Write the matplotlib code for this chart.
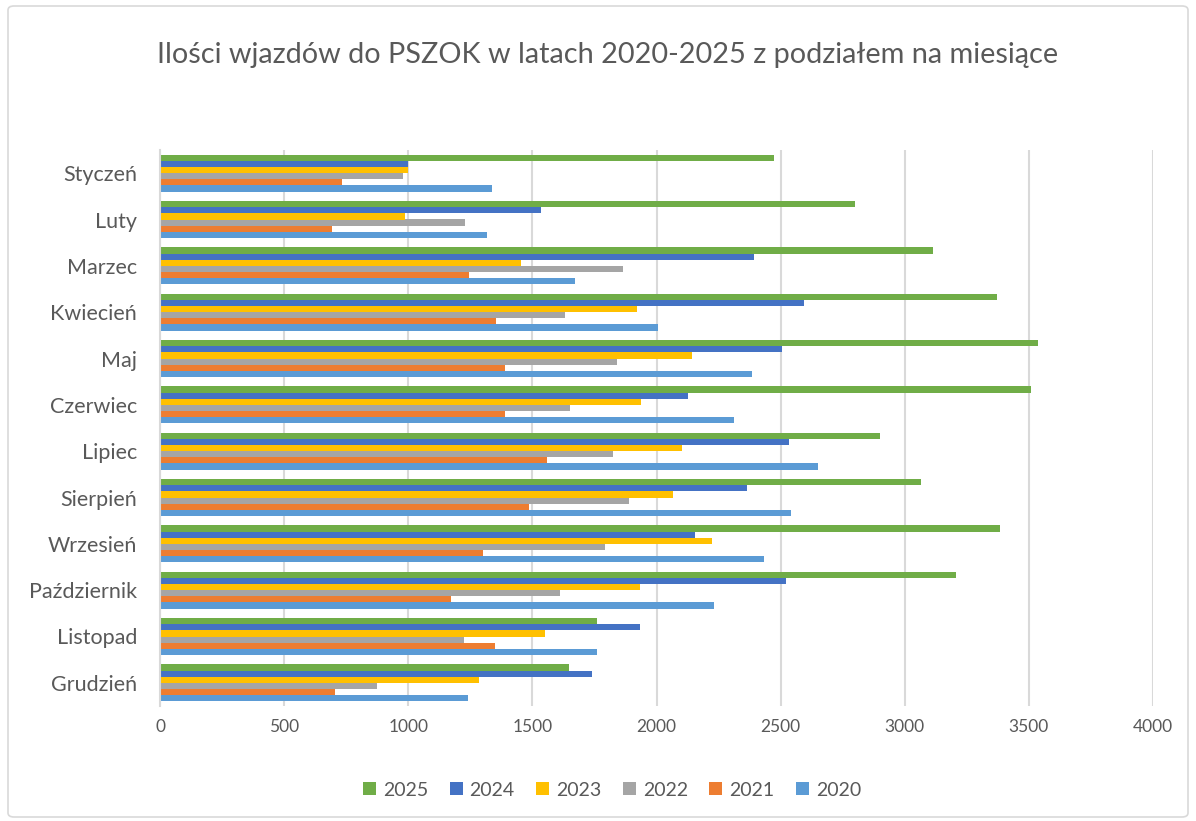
import matplotlib
matplotlib.use("Agg")
import matplotlib.pyplot as plt
from matplotlib.patches import FancyBboxPatch
import numpy as np

months = ["Styczeń", "Luty", "Marzec", "Kwiecień", "Maj", "Czerwiec", "Lipiec",
          "Sierpień", "Wrzesień", "Październik", "Listopad", "Grudzień"]

v2020 = [1336, 1317, 1670, 2008, 2383, 2314, 2651, 2542, 2433, 2232, 1760, 1241]
v2021 = [733, 692, 1243, 1353, 1388, 1391, 1560, 1485, 1300, 1174, 1350, 705]
v2022 = [980, 1227, 1866, 1632, 1841, 1650, 1825, 1890, 1794, 1612, 1225, 876]
v2023 = [998, 985, 1453, 1923, 2143, 1936, 2103, 2065, 2222, 1933, 1549, 1285]
v2024 = [1000, 1535, 2393, 2594, 2504, 2127, 2534, 2363, 2156, 2521, 1935, 1740]
v2025 = [2475, 2798, 3114, 3372, 3535, 3507, 2899, 3066, 3385, 3206, 1760, 1647]

years = ["2020", "2021", "2022", "2023", "2024", "2025"]
series = [v2020, v2021, v2022, v2023, v2024, v2025]
colors = ["#5B9BD5", "#ED7D31", "#A5A5A5", "#FFC000", "#4472C4", "#70AD47"]

plt.rcParams['font.family'] = ['Lato', 'DejaVu Sans']
txt = "#595959"

fig = plt.figure(figsize=(11.96, 8.21), dpi=100)
ax = fig.add_axes([160 / 1196, 1 - 706 / 821, (1153 - 160) / 1196, (706 - 150) / 821])

n = len(months)
ypos = np.arange(n)[::-1]  # Styczeń on top
h = 0.133
handles = []
for k, (yr, vals, c) in enumerate(zip(years, series, colors)):
    off = (k - 2.5) * h
    b = ax.barh(ypos + off, vals, height=h, color=c, label=yr, zorder=3)
    handles.append(b)

ax.set_xlim(0, 4000)
ax.set_ylim(-0.5, n - 0.5)
ax.set_xticks(np.arange(0, 4001, 500))
ax.set_yticks(ypos)
ax.set_yticklabels(months)
ax.tick_params(axis='y', length=0, pad=16.5, labelsize=15.5, labelcolor=txt)
ax.tick_params(axis='x', length=0, pad=9, labelsize=12.5, labelcolor=txt)
ax.grid(axis='x', color="#D9D9D9", linewidth=1.5, zorder=0)
for s in ["top", "right", "bottom"]:
    ax.spines[s].set_visible(False)
ax.spines["left"].set_color("#D9D9D9")
ax.spines["left"].set_linewidth(1.5)
ax.spines["left"].set_zorder(4)

fig.text(608 / 1196, 1 - 55 / 821, "Ilości wjazdów do PSZOK w latach 2020-2025 z podziałem na miesiące",
         ha="center", va="center", fontsize=20.8, color=txt)

leg = fig.legend(handles[::-1], years[::-1], loc="center", bbox_to_anchor=(612 / 1196, 1 - 790 / 821),
                 ncol=6, frameon=False, fontsize=14, handlelength=0.67, handleheight=0.67,
                 columnspacing=1.1, handletextpad=0.36)
for t in leg.get_texts():
    t.set_color(txt)

border = FancyBboxPatch((8 / 1196, 4 / 821), 1 - 16 / 1196, 1 - 10 / 821,
                        boxstyle="round,pad=0,rounding_size=0.005", transform=fig.transFigure,
                        fill=False, edgecolor="#D9D9D9", linewidth=1.2)
fig.patches.append(border)

fig.savefig("out.png", dpi=100, facecolor="white")
